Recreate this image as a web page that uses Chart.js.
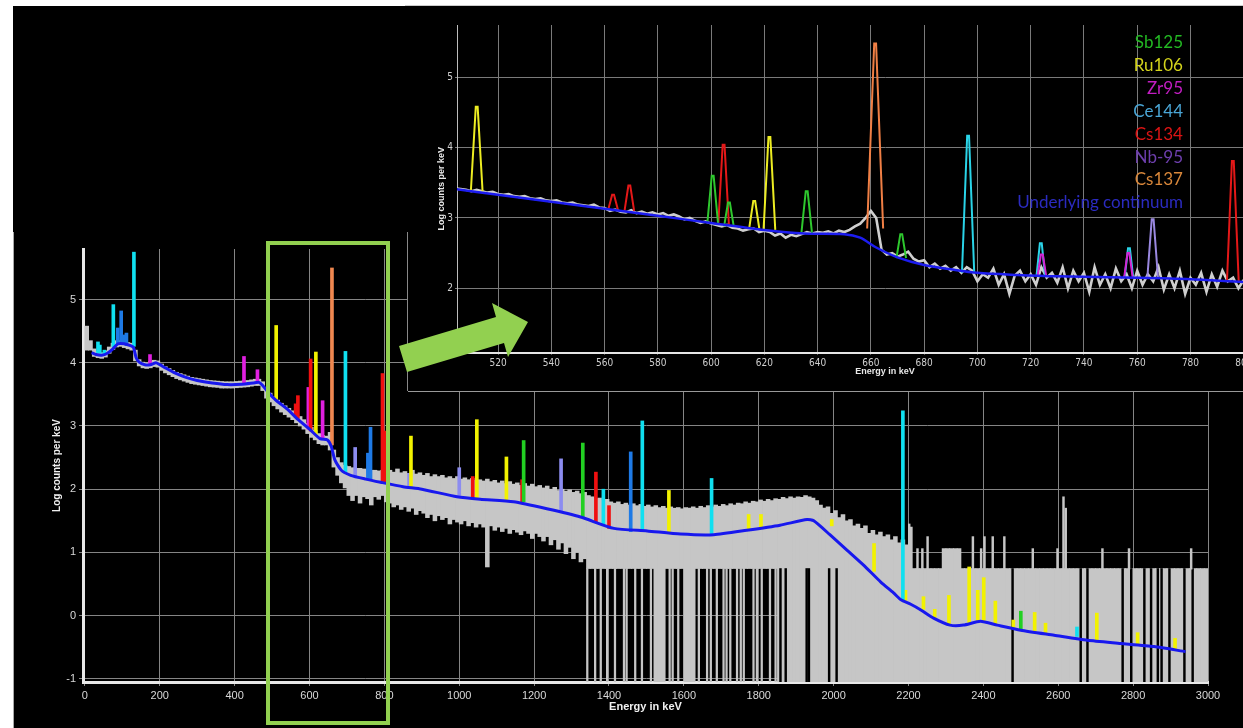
<!DOCTYPE html>
<html><head><meta charset="utf-8">
<script src="https://cdn.jsdelivr.net/npm/chart.js@4.4.1/dist/chart.umd.min.js"></script>
<style>
html,body{margin:0;padding:0;background:#fff;width:1243px;height:728px;overflow:hidden;position:relative}
.abs{position:absolute}
#panel{left:13px;top:6px;width:1230px;height:722px;background:#000}
#mainBox{left:13px;top:232px;width:1230px;height:496px}
#insetBox{left:408px;top:6px;width:835px;height:385px;overflow:hidden;background:#000}
#insetInner{left:0;top:0;width:915px;height:385px}
#legend{right:60px;top:31px;text-align:right;font-family:Lato,'Open Sans',sans-serif;font-size:17px;line-height:22.9px;white-space:nowrap}
#greenRect{left:266px;top:241px;width:124px;height:484px;border:4px solid #92d050;box-sizing:border-box}
</style>
</head><body>
<div id="panel" class="abs"></div>
<div id="mainBox" class="abs"><canvas id="mainChart"></canvas></div>
<div class="abs" style="left:13px;top:232px;width:1px;height:496px;background:#a8a8a8"></div>
<div id="insetBox" class="abs"><div id="insetInner" class="abs"><canvas id="insetChart"></canvas></div></div>
<div class="abs" style="left:407px;top:232px;width:1px;height:159px;background:#888"></div>
<div class="abs" style="left:408px;top:391px;width:835px;height:1px;background:#999"></div>
<div class="abs" style="left:405px;top:5px;width:838px;height:1px;background:#ccc"></div>
<div id="legend" class="abs">
  <div style="color:#23b923">Sb125</div>
  <div style="color:#d4d41c">Ru106</div>
  <div style="color:#c21dc2">Zr95</div>
  <div style="color:#4aa6d6">Ce144</div>
  <div style="color:#dc1414">Cs134</div>
  <div style="color:#6e3fae">Nb-95</div>
  <div style="color:#d9873a">Cs137</div>
  <div style="color:#2b2bc0">Underlying continuum</div>
</div>
<div id="greenRect" class="abs"></div>
<svg class="abs" style="left:0;top:0" width="1243" height="728">
  <polygon points="399,346 496,317 492,303 528,322 508,357 504,343 407,372" fill="#92d050"/>
</svg>
<script>
// ---------------- DATA ----------------
// Tick labels
const mainXTicks = [0,200,400,600,800,1000,1200,1400,1600,1800,2000,2200,2400,2600,2800,3000];
const mainYTicks = [-1,0,1,2,3,4,5];
const insetXTicks = [520,540,560,580,600,620,640,660,680,700,720,740,760,780,800,820];
const insetYTicks = [2,3,4,5];

// Main spectrum: gray band in 10 keV bins (upper / lower envelope, log counts per keV)
const BIN0 = 5, BINW = 10;
const FLOOR = -1.05, ONE_COUNT = 0.745;
const grayHi = [
 4.58,4.35,4.22,4.18,4.16,4.19,4.25,4.31,4.35,4.35,
 4.34,4.32,4.31,4.2,4.05,4.01,4.0,4.02,4.04,4.03,
 3.98,3.94,3.91,3.88,3.85,3.83,3.81,3.79,3.77,3.76,
 3.75,3.74,3.73,3.72,3.715,3.71,3.705,3.7,3.7,3.7,
 3.705,3.71,3.715,3.72,3.73,3.74,3.74,3.7,3.6,3.52,
 3.46,3.41,3.36,3.32,3.28,3.24,3.19,3.15,3.1,3.04,
 2.98,2.93,2.88,2.85,2.84,2.9,2.62,2.5,2.42,2.38,
 2.36,2.34,2.33,2.33,2.32,2.31,2.3,2.3,2.29,2.3,
 2.28,2.3,2.27,2.32,2.26,2.28,2.25,2.3,2.24,2.26,
 2.22,2.25,2.2,2.23,2.2,2.22,2.18,2.2,2.17,2.2,
 2.16,2.18,2.15,2.17,2.14,2.15,2.13,2.16,2.12,2.14,
 2.1,2.13,2.09,2.12,2.08,2.1,2.06,2.09,2.05,2.08,
 2.04,2.06,2.02,2.05,2.0,2.03,1.98,2.0,1.97,1.99,
 1.95,1.97,1.93,1.95,1.9,1.88,1.85,1.86,1.82,1.84,
 1.8,1.78,1.8,1.76,1.78,1.75,1.77,1.74,1.76,1.73,
 1.75,1.72,1.74,1.71,1.73,1.7,1.72,1.7,1.71,1.69,
 1.71,1.7,1.72,1.7,1.73,1.71,1.74,1.72,1.75,1.73,
 1.76,1.74,1.77,1.75,1.78,1.77,1.8,1.78,1.81,1.8,
 1.83,1.81,1.84,1.82,1.85,1.84,1.87,1.85,1.88,1.86,
 1.88,1.87,1.9,1.88,1.86,1.82,1.75,1.7,1.72,1.62,
 1.66,1.55,1.6,1.5,1.52,1.42,1.45,1.38,1.42,1.3,
 1.35,1.28,1.32,1.25,1.28,1.2,1.25,1.15,1.2,1.12,
 1.4,0.745,0.745,0.745,0.745,0.745,0.745,0.745,0.745,1.06,
 1.06,1.06,1.06,1.06,0.745,0.745,0.745,0.745,0.745,0.745,
 0.745,0.745,0.745,0.745,0.745,0.745,0.745,0.745,0.745,0.745,
 0.745,0.745,0.745,0.745,0.745,0.745,0.745,0.745,0.745,0.745,
 0.745,0.745,0.745,0.745,0.745,0.745,0.745,0.745,0.745,0.745,
 0.745,0.745,0.745,0.745,0.745,0.745,0.745,0.745,0.745,0.745,
 0.745,0.745,0.745,0.745,0.745,0.745,0.745,0.745,0.745,0.745,
 0.745,0.745,0.745,0.745,0.745,0.745,0.745,0.745,0.745,0.745
];
const grayLo = [
 4.2,4.2,4.1,4.08,4.07,4.09,4.15,4.21,4.25,4.26,
 4.24,4.22,4.2,4.03,3.95,3.92,3.91,3.92,3.94,3.93,
 3.88,3.84,3.81,3.78,3.75,3.73,3.71,3.69,3.67,3.66,
 3.65,3.64,3.63,3.62,3.615,3.61,3.6,3.6,3.6,3.6,
 3.605,3.61,3.615,3.62,3.63,3.64,3.64,3.56,3.44,3.38,
 3.32,3.27,3.22,3.18,3.14,3.1,3.05,3.0,2.95,2.88,
 2.82,2.78,2.72,2.7,2.7,2.62,2.35,2.22,2.1,2.02,
 1.9,1.82,1.9,1.78,1.88,1.85,1.75,1.88,1.84,1.9,
 1.8,1.78,1.72,1.75,1.68,1.72,1.65,1.7,1.6,1.66,
 1.62,1.55,1.6,1.5,1.58,1.52,1.55,1.45,1.52,1.48,
 1.45,1.5,1.42,1.47,1.4,1.45,1.4,0.77,1.42,1.35,
 1.4,1.33,1.38,1.3,1.36,1.32,1.28,1.34,1.3,1.22,
 1.3,1.25,1.18,1.25,1.12,1.2,1.05,1.15,0.98,1.08,
 0.9,1.0,0.85,0.9,0.745,0.745,0.745,0.745,0.745,0.745,
 0.745,0.745,0.745,0.745,0.745,0.745,0.745,0.745,0.745,0.745,
 0.745,0.745,-1.05,-1.05,-1.05,0.745,0.745,0.745,0.745,0.745,
 -1.05,-1.05,-1.05,0.745,0.745,0.745,0.745,0.745,0.745,0.745,
 0.745,0.745,0.745,0.745,0.745,0.745,0.745,0.745,0.745,0.745,
 0.745,0.745,0.745,0.745,0.745,-1.05,-1.05,-1.05,-1.05,-1.05,
 -1.05,-1.05,-1.05,-1.05,-1.05,-1.05,-1.05,-1.05,-1.05,-1.05,
 -1.05,-1.05,-1.05,-1.05,-1.05,-1.05,-1.05,-1.05,-1.05,-1.05,
 -1.05,-1.05,-1.05,-1.05,-1.05,-1.05,-1.05,-1.05,-1.05,-1.05,
 -1.05,-1.05,-1.05,-1.05,-1.05,-1.05,-1.05,-1.05,-1.05,-1.05,
 -1.05,-1.05,-1.05,-1.05,-1.05,-1.05,-1.05,-1.05,-1.05,-1.05,
 -1.05,-1.05,-1.05,-1.05,-1.05,-1.05,-1.05,-1.05,-1.05,-1.05,
 -1.05,-1.05,-1.05,-1.05,-1.05,-1.05,-1.05,-1.05,-1.05,-1.05,
 -1.05,-1.05,-1.05,-1.05,-1.05,-1.05,-1.05,-1.05,-1.05,-1.05,
 -1.05,-1.05,-1.05,-1.05,-1.05,-1.05,-1.05,-1.05,-1.05,-1.05,
 -1.05,-1.05,-1.05,-1.05,-1.05,-1.05,-1.05,-1.05,-1.05,-1.05,
 -1.05,-1.05,-1.05,-1.05,-1.05,-1.05,-1.05,-1.05,-1.05,-1.05
];
// zero-count channels (gray drops to floor) where the band otherwise stops at one count
const grayDropE = [1342,1363,1378,1395,1416,1440,1447,1470,1488,1512,1562,1570,1585,1640,1662,1672,1688,1706,1714,1724,1742,1752,1760,1786,1795,1808,1830,1845];
// channels with at least one count inside the dense zero region (black gaps)
const blackGapE = [1858,1872,1928,1934,1988,2008,2478,2660,2678,2772,2795,2830,2848,2866,2876,2897,2937,2959];
// isolated higher-count channels above the one-count level [E, top]
const graySpikes = [[2202,1.45],[2224,1.06],[2237,1.06],[2251,1.25],[2372,1.25],[2394,1.06],[2403,1.25],[2425,1.25],[2456,1.25],[2532,1.06],[2598,1.06],[2614,1.88],[2620,1.7],[2718,1.06],[2789,1.06],[2955,1.06]];

// Underlying continuum (main)
const contE = [18,30,45,60,75,88,105,122,130,137,145,160,175,190,200,215,240,270,300,340,380,420,450,465,475,490,510,540,570,600,628,648,658,668,685,710,750,790,850,900,994,1056,1145,1234,1324,1413,1502,1591,1680,1768,1857,1929,1947,1990,2037,2080,2126,2160,2180,2206,2233,2267,2311,2347,2392,2437,2500,2589,2678,2767,2856,2940];
const contV = [4.16,4.13,4.12,4.15,4.22,4.30,4.30,4.27,4.24,4.08,4.01,3.97,3.97,4.00,3.97,3.92,3.84,3.77,3.72,3.68,3.655,3.66,3.68,3.69,3.64,3.53,3.41,3.27,3.10,2.95,2.80,2.78,2.68,2.46,2.30,2.22,2.16,2.11,2.04,2.0,1.88,1.84,1.80,1.69,1.56,1.38,1.34,1.29,1.28,1.35,1.43,1.52,1.50,1.28,1.03,0.80,0.53,0.36,0.25,0.18,0.09,-0.04,-0.15,-0.15,-0.09,-0.15,-0.23,-0.31,-0.39,-0.44,-0.49,-0.57];

// Main peaks [energy keV, base, top]
const cyanPeaks = [[35,4.16,4.33],[40,4.15,4.28],[52,4.14,4.2],[76,4.25,4.92],[131,4.26,5.75],[696,2.25,4.18],[1385,1.45,2.0],[1489,1.33,3.08],[1674,1.28,2.17],[2185,0.25,3.24],[2650,-0.33,-0.18]];
const bluePeaks = [[88,4.3,4.55],[97,4.3,4.82],[104,4.29,4.44],[111,4.27,4.47],[756,2.15,2.57],[763,2.15,2.98],[1458,1.33,2.59]];
const lavenderPeaks = [[722,2.2,2.66],[866,2.02,2.25],[1000,1.9,2.34],[1272,1.66,2.48]];
const yellowPeaks = [[511,3.42,4.59],[617,2.85,4.17],[871,2.03,2.84],[1047,1.86,3.10],[1126,1.81,2.51],[1560,1.31,1.98],[1773,1.36,1.6],[1806,1.40,1.6],[1995,1.42,1.52],[2108,0.7,1.14],[2192,0.24,0.40],[2240,0.1,0.3],[2270,-0.03,0.10],[2308,-0.15,0.32],[2362,-0.13,0.77],[2385,-0.1,0.40],[2401,-0.09,0.60],[2432,-0.14,0.23],[2480,-0.19,-0.07],[2537,-0.26,0.05],[2566,-0.29,-0.12],[2703,-0.41,0.04],[2812,-0.47,-0.27],[2912,-0.55,-0.36]];
const redPeaks = [[563,3.14,3.35],[569,3.12,3.48],[603,2.92,4.06],[795,2.12,3.83],[802,2.1,2.92],[1036,1.86,2.2],[1168,1.8,2.15],[1365,1.48,2.27],[1400,1.38,1.74]];
const magentaPeaks = [[174,3.97,4.13],[425,3.66,4.10],[461,3.69,3.89],[597,2.95,3.61],[635,2.79,3.40]];
const greenPeaks = [[1172,1.8,2.77],[1330,1.56,2.73],[2500,-0.23,0.07]];
const orangePeaks = [[660,2.7,5.50]];

// Inset (zoomed 505-800 keV) gray spectrum, 2 keV steps
const INSET_E0 = 504, INSET_STEP = 2;
const insetGray = [
 3.42,3.41,3.40,3.38,3.40,3.38,3.36,3.37,3.34,3.33,
 3.34,3.31,3.30,3.31,3.28,3.27,3.28,3.25,3.24,3.25,
 3.22,3.21,3.22,3.19,3.18,3.17,3.19,3.15,3.14,3.10,
 3.12,3.09,3.08,3.11,3.07,3.09,3.06,3.08,3.05,3.07,
 3.03,3.05,3.02,2.98,3.00,2.96,2.93,2.95,2.92,2.90,
 2.88,2.90,2.86,2.85,2.82,2.84,2.85,2.80,2.82,2.80,
 2.75,2.78,2.72,2.76,2.74,2.77,2.80,2.78,2.80,2.79,
 2.81,2.78,2.82,2.80,2.83,2.88,2.92,3.00,3.10,3.00,
 2.55,2.48,2.50,2.45,2.48,2.52,2.42,2.38,2.40,2.30,
 2.35,2.28,2.32,2.25,2.30,2.22,2.30,2.25,2.10,2.20,
 2.15,2.28,2.05,2.20,1.92,2.18,2.25,2.10,2.20,2.05,
 2.30,2.15,2.22,2.08,2.30,2.00,2.25,2.10,2.22,1.95,
 2.30,2.05,2.20,2.00,2.28,2.10,2.20,2.00,2.25,2.05,
 2.20,2.10,2.30,1.98,2.20,2.00,2.25,1.92,2.15,2.05,
 2.22,1.95,2.20,2.02,2.25,2.10,2.15,2.00,2.12
];
const insetContE = [504,520,540,560,580,600,620,635,650,656,662,670,680,690,700,715,730,760,780,800,826];
const insetContV = [3.41,3.33,3.23,3.13,3.03,2.93,2.83,2.78,2.77,2.72,2.58,2.44,2.33,2.27,2.22,2.19,2.17,2.15,2.13,2.09,2.05];
// Inset peaks [energy, base, top, half width keV]
const insetSb125 = [[600.6,2.93,3.60,2.0],[606.7,2.88,3.22,1.8],[635.9,2.78,3.38,2.0],[671.4,2.43,2.77,1.8]];
const insetRu106 = [[512.0,3.38,4.58,2.2],[616.2,2.85,3.24,1.9],[621.9,2.83,4.15,2.2]];
const insetZr95 = [[724.2,2.18,2.48,1.6],[756.7,2.15,2.50,1.6]];
const insetCe144 = [[696.5,2.22,4.17,2.3],[723.8,2.18,2.64,1.6],[756.9,2.15,2.57,1.6]];
const insetCs134 = [[563.2,3.12,3.33,1.8],[569.3,3.10,3.46,1.8],[604.7,2.90,4.04,2.0],[795.9,2.10,3.81,2.2]];
const insetNb95 = [[765.8,2.15,2.98,2.0]];
const insetCs137 = [[661.6,2.85,5.48,3.0]];

// ---------------- BUILD ----------------
const TF = "'Liberation Sans',Arial,sans-serif";
const NF = "'Liberation Sans Narrow','DejaVu Sans Condensed','Liberation Sans',sans-serif";
const pts = (xs, ys) => xs.map((x, i) => ({x, y: ys[i]}));
const floatBars = (arr) => arr.map(p => ({x: p[0], y: [p[1], p[2]]}));
const fixedTicks = (list) => (s) => { s.ticks = list.map(v => ({value: v})); };
function barDs(data, color, thick, order) {
  return {type: 'bar', data, backgroundColor: color, borderWidth: 0, barThickness: thick, grouped: false, order};
}
const grayBins = grayHi.map((h, i) => ({x: BIN0 + i * BINW, y: [grayLo[i], h]}));

const mainDatasets = [
  barDs(grayBins, '#c6c6c6', 3.9, 20),
  barDs(grayDropE.map(e => ({x: e, y: [FLOOR, ONE_COUNT]})), '#c6c6c6', 1.6, 19),
  barDs(blackGapE.map(e => ({x: e, y: [FLOOR, ONE_COUNT]})), '#000000', 1.8, 18),
  barDs(graySpikes.map(p => ({x: p[0], y: [ONE_COUNT - 0.01, p[1]]})), '#c6c6c6', 1.8, 17),
  barDs(floatBars(magentaPeaks), '#e020e0', 3, 9),
  barDs(floatBars(lavenderPeaks), '#8c8cf0', 3, 9),
  barDs(floatBars(greenPeaks), '#22d022', 3, 8),
  barDs(floatBars(redPeaks), '#f01010', 3, 8),
  barDs(floatBars(bluePeaks), '#1e7ae6', 3, 7),
  barDs(floatBars(yellowPeaks), '#f2f200', 3, 7),
  barDs(floatBars(orangePeaks), '#f08850', 3, 6),
  barDs(floatBars(cyanPeaks), '#10e0f0', 3, 6),
  {type: 'line', data: pts(contE, contV), borderColor: '#1818ee', borderWidth: 3, pointRadius: 0, tension: 0.2, order: 1}
];

new Chart(document.getElementById('mainChart'), {
  type: 'bar',
  data: {datasets: mainDatasets},
  options: {
    responsive: true, maintainAspectRatio: false, animation: false,
    layout: {padding: {top: 17, right: 35, bottom: 0, left: 0}},
    plugins: {legend: {display: false}, tooltip: {enabled: false}},
    scales: {
      x: {
        type: 'linear', min: -5, max: 3000, offset: false,
        afterFit(s) { s.height = 46; },
        afterBuildTicks: fixedTicks(mainXTicks),
        ticks: {autoSkip: false, maxRotation: 0, color: '#d8d8d8', padding: 3,
                font: {family: TF, size: 11}, callback: v => String(v)},
        grid: {offset: false, color: '#858585', lineWidth: 1, tickLength: 4, drawTicks: true},
        border: {color: '#e8e8e8', width: 3},
        title: {display: true, text: 'Energy in keV', color: '#f0f0f0', font: {family: TF, size: 11, weight: 'bold'}, padding: {top: 0, bottom: 14}}
      },
      y: {
        type: 'linear', min: -1.05, max: 5.8,
        afterFit(s) { s.width = 70; },
        afterBuildTicks: fixedTicks(mainYTicks),
        ticks: {color: '#d8d8d8', padding: 3, font: {family: TF, size: 11}, callback: v => String(v)},
        grid: {color: '#858585', lineWidth: 1, tickLength: 4, drawTicks: true},
        border: {color: '#e8e8e8', width: 3},
        title: {display: true, text: 'Log counts per keV', color: '#f0f0f0', font: {family: TF, size: 10, weight: 'bold'}, padding: {top: 38, bottom: 0}}
      }
    }
  }
});

function peakLine(list) {
  const out = [];
  list.forEach(p => {
    out.push({x: p[0] - p[3], y: p[1]}, {x: p[0] - 0.35, y: p[2]}, {x: p[0] + 0.35, y: p[2]}, {x: p[0] + p[3], y: p[1]}, {x: p[0] + p[3] + 0.1, y: null});
  });
  return out;
}
function lineDs(data, color, width, order, tension) {
  return {type: 'line', data, borderColor: color, borderWidth: width, pointRadius: 0, tension: tension || 0, spanGaps: false, order};
}
const insetGrayPts = insetGray.map((v, i) => ({x: INSET_E0 + i * INSET_STEP, y: v}));

new Chart(document.getElementById('insetChart'), {
  type: 'line',
  data: {datasets: [
    lineDs(insetGrayPts, '#cfcfcf', 2.6, 20),
    lineDs(peakLine(insetSb125), '#2ec82e', 2, 5),
    lineDs(peakLine(insetRu106), '#ecec22', 2, 5),
    lineDs(peakLine(insetCe144), '#2ad4e8', 2, 5),
    lineDs(peakLine(insetZr95), '#d424d4', 2, 4),
    lineDs(peakLine(insetCs134), '#e41818', 2, 5),
    lineDs(peakLine(insetNb95), '#9a88e0', 2, 5),
    lineDs(peakLine(insetCs137), '#f07f45', 2, 5),
    lineDs(pts(insetContE, insetContV), '#1c1cf0', 2.5, 1, 0.3)
  ]},
  options: {
    responsive: true, maintainAspectRatio: false, animation: false,
    layout: {padding: {top: 19, right: 10, bottom: 0, left: 0}},
    plugins: {legend: {display: false}, tooltip: {enabled: false}},
    scales: {
      x: {
        type: 'linear', min: 504.6, max: 826,
        afterFit(s) { s.height = 38.3; },
        afterBuildTicks: fixedTicks(insetXTicks),
        ticks: {autoSkip: false, maxRotation: 0, color: '#d0d0d0', padding: 3,
                font: {family: NF, size: 10}, callback: v => String(v)},
        grid: {color: '#7a7a7a', lineWidth: 1, tickLength: 2, drawTicks: true},
        border: {color: '#e6e6e6', width: 2},
        title: {display: true, text: 'Energy in keV', color: '#e8e8e8', font: {family: TF, size: 9, weight: 'bold'}, padding: {top: 0, bottom: 13.6}}
      },
      y: {
        type: 'linear', min: 1.084, max: 5.744,
        afterFit(s) { s.width = 49; },
        afterBuildTicks: fixedTicks(insetYTicks),
        ticks: {color: '#d0d0d0', padding: 2, font: {family: NF, size: 10}, callback: v => String(v)},
        grid: {color: '#7a7a7a', lineWidth: 1, tickLength: 2, drawTicks: true},
        border: {color: '#bdbdbd', width: 1},
        title: {display: true, text: 'Log counts per keV', color: '#e8e8e8', font: {family: TF, size: 9, weight: 'bold'}, padding: {top: 28.6, bottom: 0}}
      }
    }
  }
});
</script>
</body></html>
